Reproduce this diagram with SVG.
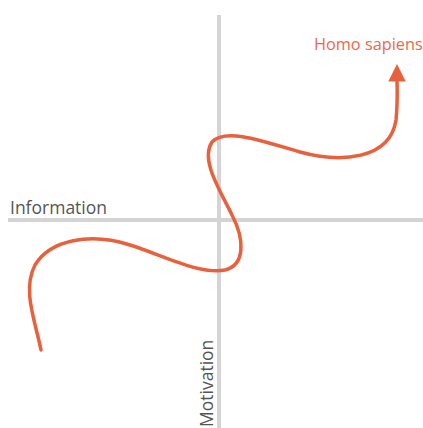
<svg xmlns="http://www.w3.org/2000/svg" width="423" height="428" viewBox="0 0 423 428">
  <style>
    .axis { stroke: #d4d4d4; stroke-width: 4; fill: none; }
    .label { font-family: "Open Sans", "Liberation Sans", sans-serif; font-size: 17.5px; fill: #555555; }
    .path { stroke: #e8603c; stroke-width: 3.5; fill: none; stroke-linecap: round; }
    .accent { font-family: "Open Sans", "Liberation Sans", sans-serif; font-size: 16.3px; fill: #ea6a4a; }
  </style>
  <defs>
    <marker id="arrow" markerWidth="5" markerHeight="5" refX="1" refY="2.5" orient="auto" markerUnits="strokeWidth">
      <path d="M0,0 L5,2.5 L0,5 Z" fill="#e8603c"/>
    </marker>
  </defs>
  <g id="axes">
    <line class="axis" x1="219" y1="15" x2="219" y2="428"/>
    <line class="axis" x1="8" y1="220" x2="423" y2="220"/>
  </g>
  <g id="labels">
    <text class="label" transform="translate(10,214)">Information</text>
    <text class="label" transform="translate(213,427) rotate(-90)">Motivation</text>
    <text class="accent" x="314" y="50">Homo sapiens</text>
  </g>
  <g id="connectors">
    <path class="path" marker-end="url(#arrow)" d="M41,350 C35,320 22,290 35,265 C50,240 90,232 130,245 C165,256 200,275 225,270 C245,265 245,240 232,215 C220,190 200,160 212,142 C225,128 260,140 300,152 C340,163 390,160 396,120 C398,100 397,90 397,78"/>
  </g>
</svg>
